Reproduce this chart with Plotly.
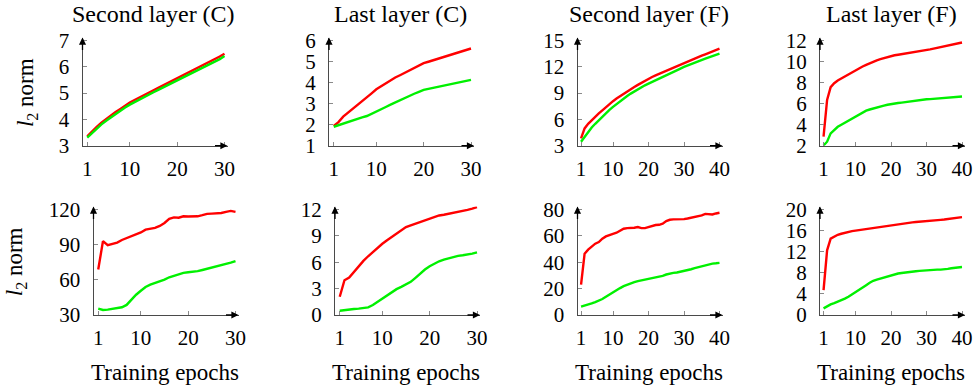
import plotly.graph_objects as go

# ---- data -------------------------------------------------------------
epochs_c = list(range(1, 31))
epochs_f = list(range(1, 41))

# Top row: l2 norm of the weights
second_c_red = [3.36, 3.55, 3.72, 3.88, 4.02, 4.15, 4.28, 4.40, 4.53, 4.64,
                4.74, 4.84, 4.93, 5.02, 5.11, 5.20, 5.29, 5.39, 5.48, 5.58,
                5.67, 5.76, 5.85, 5.94, 6.03, 6.11, 6.20, 6.29, 6.39, 6.50]
second_c_green = [3.31, 3.49, 3.66, 3.81, 3.95, 4.08, 4.21, 4.33, 4.45, 4.56,
                  4.66, 4.76, 4.85, 4.94, 5.03, 5.12, 5.21, 5.30, 5.39, 5.49,
                  5.58, 5.67, 5.76, 5.84, 5.93, 6.02, 6.10, 6.19, 6.29, 6.41]

last_c_red = [1.94, 2.12, 2.38, 2.56, 2.73, 2.92, 3.10, 3.30, 3.49, 3.68,
              3.83, 3.98, 4.11, 4.24, 4.35, 4.47, 4.58, 4.70, 4.81, 4.92,
              4.99, 5.06, 5.13, 5.20, 5.27, 5.34, 5.41, 5.48, 5.55, 5.62]
last_c_green = [1.90, 1.98, 2.06, 2.14, 2.22, 2.29, 2.35, 2.41, 2.51, 2.62,
                2.73, 2.84, 2.95, 3.06, 3.17, 3.27, 3.37, 3.47, 3.56, 3.65,
                3.70, 3.75, 3.79, 3.84, 3.89, 3.94, 3.99, 4.04, 4.09, 4.13]

second_f_red = [3.83, 4.97, 5.50, 5.92, 6.30, 6.68, 7.03, 7.40, 7.75, 8.08,
                8.38, 8.66, 8.93, 9.19, 9.45, 9.70, 9.94, 10.18, 10.42, 10.65,
                10.84, 11.03, 11.21, 11.39, 11.56, 11.74, 11.92, 12.09, 12.26, 12.43,
                12.60, 12.77, 12.94, 13.11, 13.27, 13.42, 13.58, 13.74, 13.90, 14.06]
second_f_green = [3.45, 4.00, 4.60, 5.08, 5.50, 5.92, 6.32, 6.71, 7.08, 7.43,
                  7.76, 8.07, 8.37, 8.66, 8.94, 9.20, 9.45, 9.69, 9.89, 10.08,
                  10.28, 10.47, 10.66, 10.85, 11.04, 11.23, 11.42, 11.61, 11.80, 11.98,
                  12.15, 12.31, 12.47, 12.63, 12.78, 12.93, 13.08, 13.22, 13.36, 13.50]

last_f_red = [2.86, 6.35, 7.56, 7.94, 8.20, 8.40, 8.57, 8.78, 8.99, 9.20,
              9.37, 9.53, 9.69, 9.85, 10.00, 10.12, 10.23, 10.34, 10.44, 10.54,
              10.60, 10.65, 10.70, 10.75, 10.80, 10.86, 10.92, 10.98, 11.04, 11.10,
              11.16, 11.23, 11.30, 11.36, 11.43, 11.50, 11.58, 11.66, 11.74, 11.81]
last_f_green = [2.02, 2.38, 3.17, 3.52, 3.80, 4.00, 4.20, 4.38, 4.57, 4.76,
                4.95, 5.14, 5.33, 5.44, 5.55, 5.64, 5.73, 5.81, 5.89, 5.97,
                6.01, 6.06, 6.10, 6.15, 6.19, 6.23, 6.28, 6.32, 6.37, 6.41,
                6.43, 6.45, 6.47, 6.48, 6.50, 6.53, 6.57, 6.60, 6.64, 6.67]

# Bottom row
second_c_red_b = [68.8, 93.0, 89.5, 90.5, 91.8, 94.0, 95.5, 97.0, 98.8, 100.4,
                  102.8, 103.5, 104.3, 106.0, 108.5, 112.0, 113.3, 113.0, 114.2, 114.0,
                  113.8, 114.2, 115.2, 116.3, 116.5, 116.8, 117.0, 118.0, 118.8, 118.0]
second_c_green_b = [35.5, 34.3, 34.6, 35.2, 35.8, 36.6, 38.6, 43.0, 47.3, 50.7,
                    53.9, 55.9, 57.3, 58.8, 60.2, 62.2, 63.6, 65.1, 65.9, 66.5,
                    66.9, 67.4, 68.4, 69.4, 70.2, 71.1, 72.1, 73.1, 74.6, 76.0]

last_c_red_b = [2.08, 3.96, 4.26, 4.90, 5.55, 6.15, 6.68, 7.17, 7.66, 8.10,
                8.50, 8.87, 9.25, 9.62, 10.00, 10.20, 10.38, 10.57, 10.75, 10.90,
                11.06, 11.32, 11.40, 11.50, 11.60, 11.70, 11.83, 11.96, 12.10, 12.26]
last_c_green_b = [0.49, 0.57, 0.64, 0.68, 0.72, 0.78, 0.87, 1.13, 1.50, 1.89,
                  2.26, 2.64, 2.94, 3.20, 3.50, 3.77, 4.23, 4.72, 5.17, 5.55,
                  5.85, 6.11, 6.30, 6.45, 6.60, 6.72, 6.79, 6.87, 6.98, 7.13]

second_f_red_b = [23.1, 46.5, 49.6, 51.6, 54.1, 55.3, 57.9, 59.6, 60.9, 61.6,
                  62.4, 63.6, 65.4, 65.9, 65.9, 66.2, 66.7, 65.9, 65.9, 66.7,
                  67.7, 68.2, 68.4, 69.2, 71.2, 72.2, 72.5, 72.5, 72.5, 72.7,
                  73.2, 73.7, 74.7, 75.2, 75.5, 76.7, 76.7, 76.2, 77.0, 77.5]
second_f_green_b = [6.3, 7.0, 7.8, 8.8, 9.8, 10.8, 12.1, 13.8, 15.6, 17.4,
                    18.9, 20.4, 21.9, 23.1, 24.2, 24.9, 25.7, 26.2, 26.9, 27.4,
                    27.9, 28.2, 28.7, 29.7, 30.7, 31.4, 31.9, 32.2, 32.7, 33.2,
                    34.0, 34.7, 35.5, 36.2, 37.0, 38.0, 38.7, 39.0, 39.2, 39.5]

last_f_red_b = [4.70, 12.26, 14.47, 14.90, 15.20, 15.40, 15.60, 15.80, 15.90, 16.00,
                16.10, 16.20, 16.30, 16.40, 16.50, 16.63, 16.76, 16.90, 17.00, 17.10,
                17.15, 17.20, 17.30, 17.40, 17.50, 17.57, 17.63, 17.70, 17.80, 17.90,
                17.93, 17.96, 17.98, 18.04, 18.10, 18.20, 18.30, 18.40, 18.48, 18.55]
last_f_green_b = [1.26, 1.70, 2.00, 2.25, 2.50, 2.80, 3.10, 3.46, 3.93, 4.40,
                  4.80, 5.20, 5.65, 6.10, 6.48, 6.69, 6.90, 7.12, 7.33, 7.55,
                  7.70, 7.86, 7.97, 8.08, 8.18, 8.24, 8.30, 8.37, 8.43, 8.50,
                  8.54, 8.57, 8.60, 8.60, 8.60, 8.74, 8.87, 8.95, 9.02, 9.10]

titles = ["Second layer (C)", "Last layer (C)", "Second layer (F)", "Last layer (F)"]
xticks_c = [1, 10, 20, 30]
xticks_f = [1, 10, 20, 30, 40]
yticks_top = [[3, 4, 5, 6, 7], [1, 2, 3, 4, 5, 6], [3, 6, 9, 12, 15], [2, 4, 6, 8, 10, 12]]
yticks_bottom = [[30, 60, 90, 120], [0, 3, 6, 9, 12], [0, 20, 40, 60, 80], [0, 4, 8, 12, 16, 20]]

# ---- layout geometry (pixels) ----------------------------------------
W, H = 974, 385
FONT = "'Liberation Serif', 'Times New Roman', 'DejaVu Serif', serif"
RED = "#ff0000"
GREEN = "#00f000"
AXIS = "#4a4a4a"
TICK_SIZE = 21
TITLE_SIZE = 24
LABEL_SIZE = 23

row_px = [(145.7, 40.5), (315.0, 209.5)]        # (y of ymin, y of ymax)
left_px = [[82.5, 329.0, 577.5, 820.0], [93.5, 335.0, 577.5, 820.0]]
xlabel_standoff = [4, 4]
plot_w = 142.0   # pixels from x=0 to last epoch
ext = 3.0        # arrow overhang beyond the last value

panels = [
    (epochs_c, second_c_red, second_c_green, xticks_c),
    (epochs_c, last_c_red, last_c_green, xticks_c),
    (epochs_f, second_f_red, second_f_green, xticks_f),
    (epochs_f, last_f_red, last_f_green, xticks_f),
    (epochs_c, second_c_red_b, second_c_green_b, xticks_c),
    (epochs_c, last_c_red_b, last_c_green_b, xticks_c),
    (epochs_f, second_f_red_b, second_f_green_b, xticks_f),
    (epochs_f, last_f_red_b, last_f_green_b, xticks_f),
]

fig = go.Figure()
annotations = []
layout = dict(
    template="none",
    width=W, height=H,
    margin=dict(l=0, r=0, t=0, b=0, pad=0, autoexpand=False),
    paper_bgcolor="white", plot_bgcolor="white",
    showlegend=False,
    font=dict(family=FONT, size=TICK_SIZE, color="black"),
)

for i, (xs, red, green, xt) in enumerate(panels):
    row, col = divmod(i, 4)
    n = i + 1
    xname = "x" if n == 1 else f"x{n}"
    yname = "y" if n == 1 else f"y{n}"
    yt = (yticks_top if row == 0 else yticks_bottom)[col]
    ymin, ymax = yt[0], yt[-1]
    xmax = xt[-1]

    x0 = left_px[row][col]
    x1 = x0 + plot_w + ext
    yb, ytop = row_px[row]
    hpx = yb - ytop
    ytop_ext = ytop - ext

    xrange_ = [0, xmax * (plot_w + ext) / plot_w]
    yrange_ = [ymin, ymin + (ymax - ymin) * (hpx + ext) / hpx]

    fig.add_trace(go.Scatter(x=xs, y=red, mode="lines", xaxis=xname, yaxis=yname,
                             line=dict(color=RED, width=2.4)))
    fig.add_trace(go.Scatter(x=xs, y=green, mode="lines", xaxis=xname, yaxis=yname,
                             line=dict(color=GREEN, width=2.4)))

    common = dict(showgrid=False, zeroline=False, showline=True, linecolor=AXIS,
                  linewidth=1.3, ticks="inside", ticklen=4, tickcolor="#8a8a8a",
                  tickwidth=1, tickfont=dict(family=FONT, size=TICK_SIZE, color="black"),
                  fixedrange=True, automargin=False)
    layout[f"xaxis{n if n > 1 else ''}"] = dict(
        common, domain=[x0 / W, x1 / W], range=xrange_, anchor=yname,
        tickvals=xt, ticktext=[str(v) for v in xt],
        ticklabelstandoff=xlabel_standoff[row])
    layout[f"yaxis{n if n > 1 else ''}"] = dict(
        common, domain=[1 - yb / H, 1 - ytop_ext / H], range=yrange_, anchor=xname,
        tickvals=yt, ticktext=[str(v) for v in yt], ticklabelstandoff=8)

    # axis arrowheads
    annotations.append(dict(xref=f"{xname} domain", yref=f"{yname} domain", x=1, y=0,
                            ax=-14, ay=0, text="", showarrow=True, arrowhead=2,
                            arrowsize=1.1, arrowwidth=1.3, arrowcolor="black"))
    annotations.append(dict(xref=f"{xname} domain", yref=f"{yname} domain", x=0, y=1,
                            ax=0, ay=14, text="", showarrow=True, arrowhead=2,
                            arrowsize=1.1, arrowwidth=1.3, arrowcolor="black"))

    cx = (x0 + x0 + plot_w) / 2
    if row == 0:
        annotations.append(dict(xref="paper", yref="paper", x=cx / W, y=1 - 14 / H,
                                text=titles[col], showarrow=False, xanchor="center",
                                yanchor="middle", font=dict(family=FONT, size=TITLE_SIZE)))
    else:
        annotations.append(dict(xref="paper", yref="paper", x=cx / W, y=1 - 372 / H,
                                text="Training epochs", showarrow=False, xanchor="center",
                                yanchor="middle", font=dict(family=FONT, size=LABEL_SIZE)))

# y-axis titles
for ycen, xcen in [((145.7 + 40.5) / 2, 27), ((315 + 209.5) / 2, 16)]:
    annotations.append(dict(xref="paper", yref="paper", x=xcen / W, y=1 - ycen / H,
                            text="<i>l</i><sub>2</sub> norm", showarrow=False,
                            textangle=-90, xanchor="center", yanchor="middle",
                            font=dict(family=FONT, size=LABEL_SIZE)))

layout["annotations"] = annotations
fig.update_layout(**layout)
fig.write_html("out.html")
